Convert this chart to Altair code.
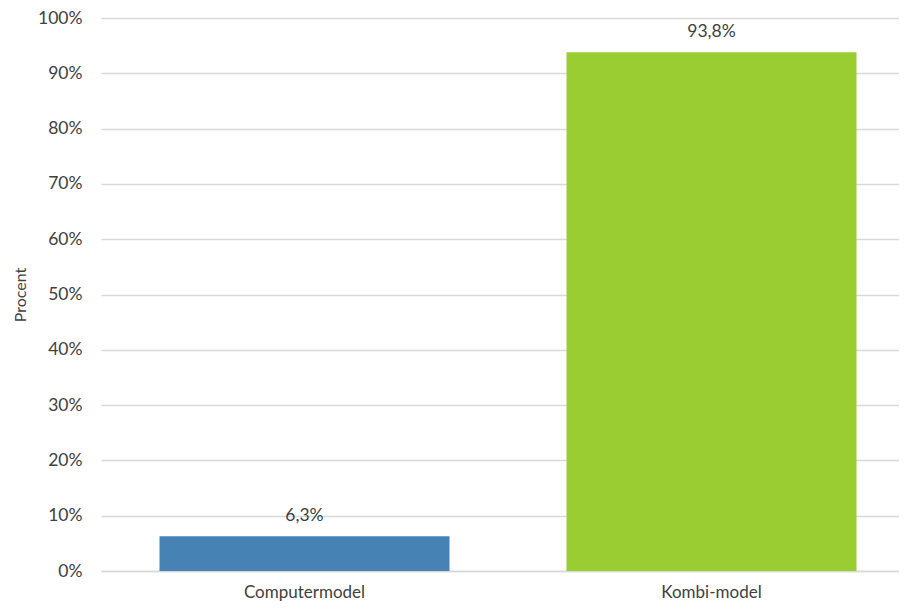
import altair as alt
import pandas as pd

categories = ["Computermodel", "Kombi-model"]
values = [0.063, 0.938]
colors = ["#4682B4", "#9ACD32"]
labels = [f"{v*100:.1f}".replace(".", ",") + "%" for v in values]

df = pd.DataFrame({"cat": categories, "val": values, "lab": labels, "col": colors})

FONT = "Lato"
FS = 17.5
base = alt.Chart(df).encode(
    x=alt.X("cat:N", sort=categories, title=None,
            scale=alt.Scale(paddingInner=0, paddingOuter=0, range=[0, 814]),
            axis=alt.Axis(labelAngle=0, labelFontSize=17, labelFont=FONT, labelColor="#404040",
                          ticks=False, domain=True, domainColor="#d9d9d9", domainWidth=1.5,
                          labelPadding=13)),
)

bars = base.mark_bar(size=290).encode(
    y=alt.Y("val:Q", title="Procent",
            scale=alt.Scale(domain=[0, 1]),
            axis=alt.Axis(format=".0%", values=[i/10 for i in range(11)], labelFontSize=FS,
                          labelFont=FONT, labelColor="#404040", ticks=False, domain=False,
                          gridColor="#d9d9d9", gridWidth=1.5, labelPadding=19,
                          titleFont=FONT, titleFontSize=16, titleFontWeight="normal",
                          titleColor="#404040", titlePadding=9)),
    color=alt.Color("col:N", scale=None),
)

text = base.mark_text(baseline="bottom", dy=-11, fontSize=FS, font=FONT, color="#404040").encode(
    y="val:Q", text="lab:N"
)

chart = (bars + text).properties(
    width=798, height=553,
    autosize="none",
    padding={"left": 93, "top": 10, "right": 0, "bottom": 33},
).configure_view(stroke=None)

chart.save("out.html", embed_options={"renderer": "svg", "actions": False})
